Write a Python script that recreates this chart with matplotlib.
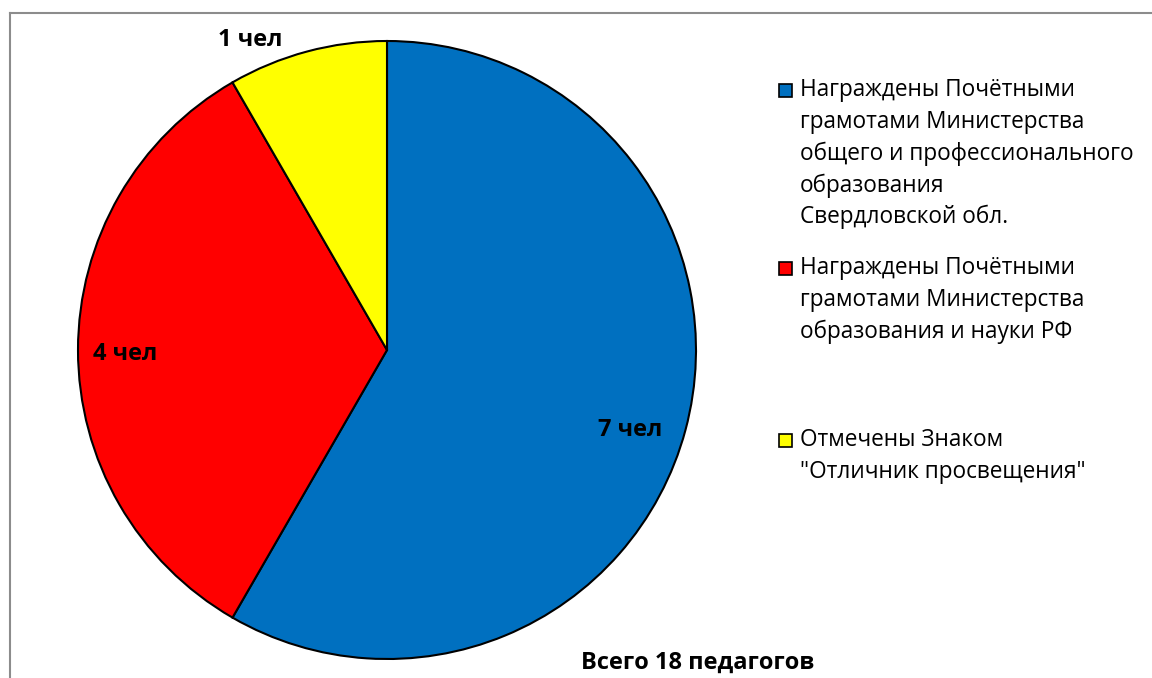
import matplotlib
matplotlib.use("Agg")
import matplotlib.pyplot as plt
from matplotlib.patches import Rectangle
from matplotlib.lines import Line2D

plt.rcParams['font.family'] = ['Open Sans', 'DejaVu Sans']

categories = [
    "Награждены Почётными\nграмотами Министерства\nобщего и профессионального\nобразования\nСвердловской обл.",
    "Награждены Почётными\nграмотами Министерства\nобразования и науки РФ",
    "Отмечены Знаком\n\"Отличник просвещения\"",
]
values = [7, 4, 1]
labels = ["7 чел", "4 чел", "1 чел"]
colors = ["#0070C0", "#FF0000", "#FFFF00"]
total_text = "Всего 18 педагогов"

W, H = 1152, 678
fig = plt.figure(figsize=(W / 100, H / 100), dpi=100)

# border
fig.add_artist(Line2D([9.5 / W, 9.5 / W], [0, 1 - 13 / H], color="#8c8c8c", lw=1.5))
fig.add_artist(Line2D([9.5 / W, 1], [1 - 13 / H, 1 - 13 / H], color="#8c8c8c", lw=1.5))

cx, cy, r = 387, 350, 309
ax = fig.add_axes([(cx - r) / W, (H - cy - r) / H, 2 * r / W, 2 * r / H])
wedges, _ = ax.pie(values, colors=colors, startangle=90, counterclock=False,
                   radius=1.0, wedgeprops=dict(edgecolor="black", linewidth=1.5))
ax.set_xlim(-1, 1)
ax.set_ylim(-1, 1)
ax.set_aspect("equal")
ax.axis("off")

label_pos = [(0.786, -0.259), (-0.848, -0.013), (-0.443, 1.003)]
for (x, y), t in zip(label_pos, labels):
    ax.text(x, y, t, ha="center", va="center", fontsize=17, fontweight="bold",
            clip_on=False)

# legend (manual)
entry_tops = [90, 268, 440]
line_h = 31.8
for top, txt, c in zip(entry_tops, categories, colors):
    fig.add_artist(Rectangle((778.5 / W, 1 - (top + 7) / H), 13 / W, 13 / H,
                             facecolor=c, edgecolor="black", lw=1.2,
                             transform=fig.transFigure))
    for i, line in enumerate(txt.split("\n")):
        fig.text(800 / W, 1 - (top + i * line_h) / H, line, ha="left", va="center",
                 fontsize=16.3, color="black")

fig.text(698 / W, 1 - 663 / H, total_text, ha="center", va="center",
         fontsize=17, fontweight="bold")

fig.savefig("out.png", dpi=100)
